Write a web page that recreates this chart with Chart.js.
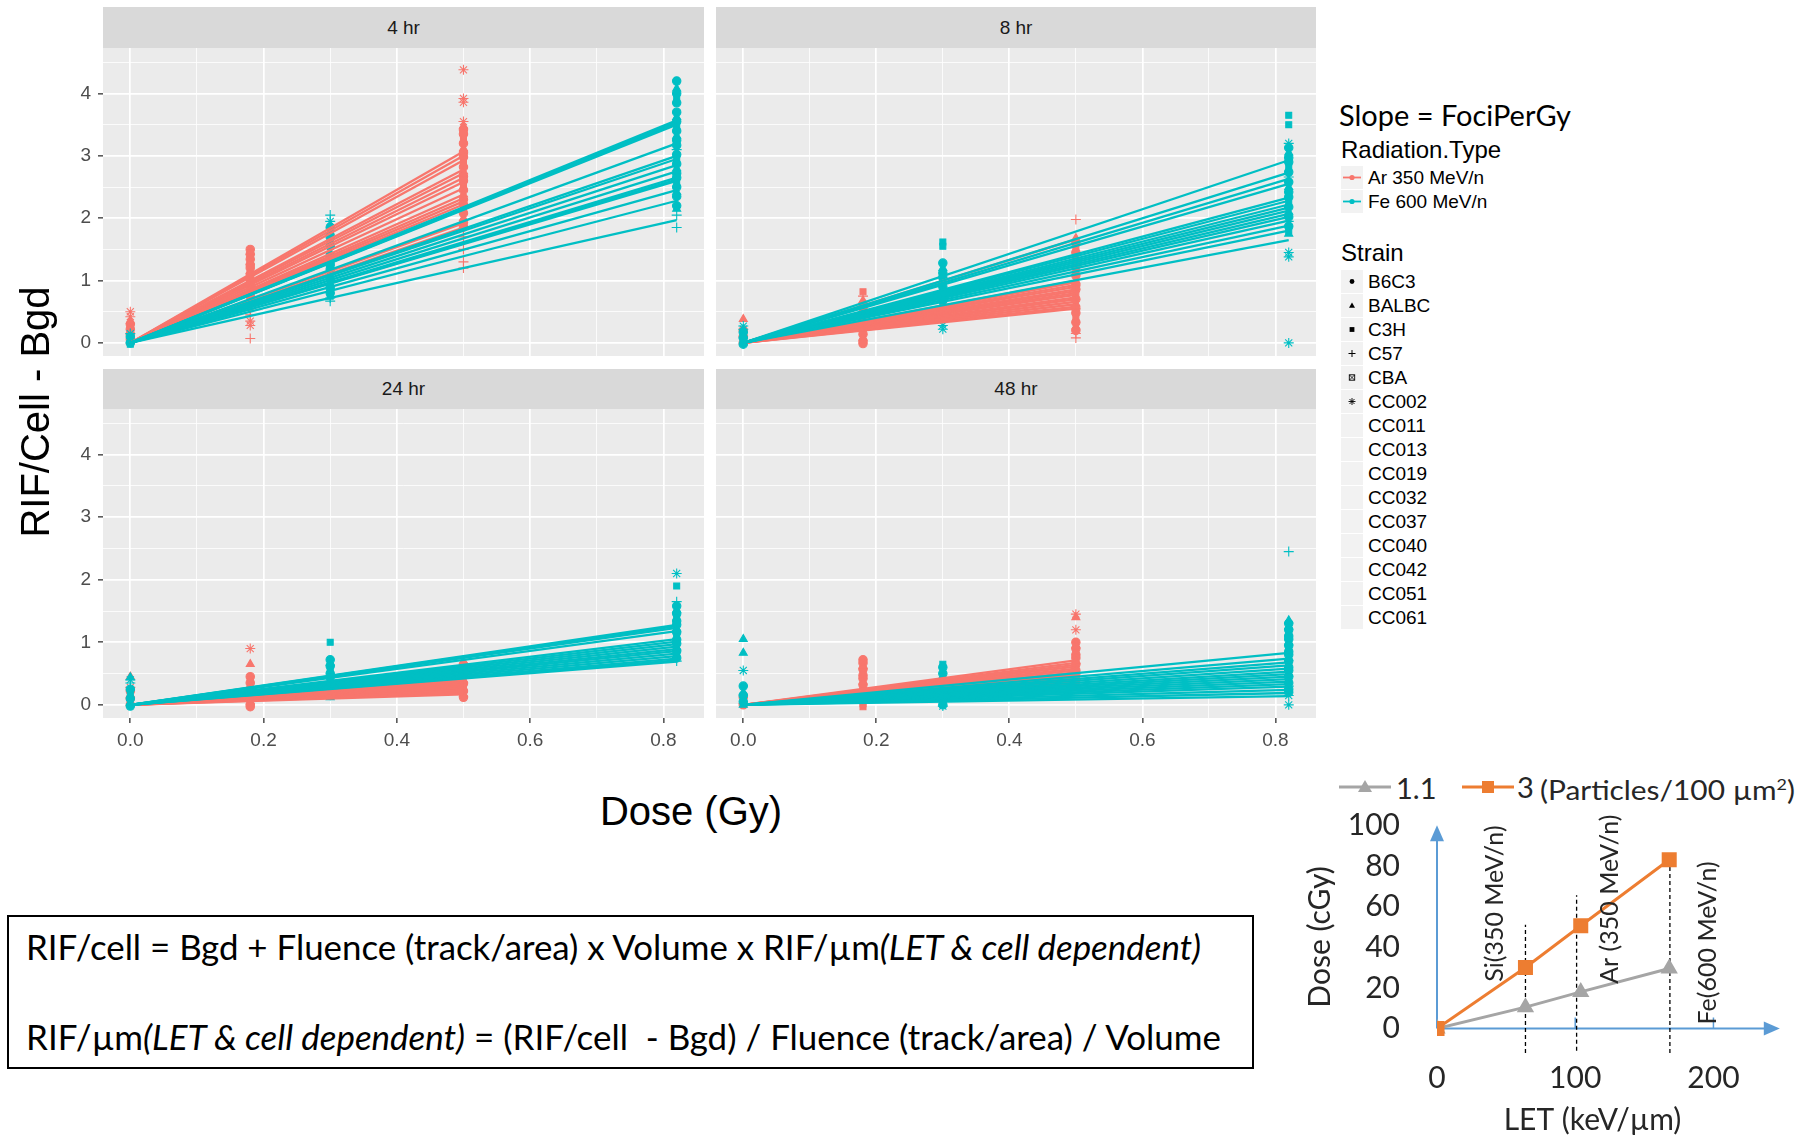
<!DOCTYPE html>
<html><head><meta charset="utf-8">
<title>RIF per cell vs dose</title>
<script src="https://cdn.jsdelivr.net/npm/chart.js@4.4.1/dist/chart.umd.min.js"></script>
<style>
html,body{margin:0;padding:0;background:#fff;}
body{width:1818px;height:1139px;position:relative;overflow:hidden;font-family:"Liberation Sans",Arial,sans-serif;}
canvas{position:absolute;}
.strip{position:absolute;background:#D9D9D9;color:#1A1A1A;font-size:19px;display:flex;align-items:center;justify-content:center;}
.t{position:absolute;white-space:nowrap;line-height:1;}
.fit{transform-origin:0 50%;}
.legkey{position:absolute;width:22px;height:23px;background:#F2F2F2;}
.cal{font-family:Lato,"Open Sans",sans-serif;}
#formula{position:absolute;left:7px;top:915px;width:1243px;height:150px;border:2px solid #000;}
</style></head><body>
<script>
// ================= DATA =================
const timePoints = ['4 hr','8 hr','24 hr','48 hr'];
const radiationTypes = ['Ar 350 MeV/n','Fe 600 MeV/n'];
const strains = ['B6C3','BALBC','C3H','C57','CBA','CC002','CC011','CC013','CC019','CC032','CC037','CC040','CC042','CC051','CC061'];
const doseTicks = [0.0,0.2,0.4,0.6,0.8];
const doseGrid = [0,0.1,0.2,0.3,0.4,0.5,0.6,0.7,0.8];
const rifTicks = [0,1,2,3,4];
const rifGrid = [0,0.5,1,1.5,2,2.5,3,3.5,4,4.5];
const arMaxDose = 0.5;
const feMaxDose = 0.82;

// fitted (RIF/cell - Bgd) at the highest dose for each strain line
const fitAr4  = [3.07,3.0,2.93,2.78,2.72,2.65,2.58,2.48,2.38,2.32,2.27,2.22,2.15,1.92,1.85];
const fitFe4  = [3.57,3.55,3.52,3.5,3.2,3.0,2.95,2.85,2.75,2.65,2.62,2.6,2.45,2.28,1.97];
const fitAr8  = [1.66,1.0,0.97,0.93,0.9,0.86,0.83,0.8,0.77,0.73,0.7,0.66,0.62,0.58,0.55];
const fitFe8  = [2.93,2.73,2.63,2.55,2.33,2.28,2.22,2.17,2.12,2.07,2.02,1.96,1.88,1.8,1.65];
const fitAr24 = [0.45,0.42,0.4,0.38,0.36,0.34,0.32,0.3,0.28,0.27,0.25,0.23,0.21,0.19,0.17];
const fitFe24 = [1.28,1.26,1.23,1.18,1.05,1.01,0.97,0.93,0.89,0.86,0.82,0.78,0.74,0.71,0.69];
const fitAr48 = [0.71,0.67,0.64,0.61,0.58,0.55,0.52,0.5,0.48,0.46,0.44,0.42,0.4,0.37,0.34];
const fitFe48 = [0.83,0.74,0.68,0.63,0.58,0.53,0.49,0.45,0.41,0.37,0.33,0.29,0.24,0.19,0.14];

// observed points: [dose, RIF/cell - Bgd, strain index]
const ptsAr4 = [[0,0.62,4],[0,0.57,4],[0,0.5,5],[0,0.42,5],[0,0.35,1],[0,0.3,0],[0,0.26,2],[0,0.22,0],[0,0.18,1],[0,0.14,0],[0,0.1,2],[0,0.06,0],[0,0.03,1],
 [0.18,1.72,4],[0.18,1.5,0],[0.18,1.46,1],[0.18,1.42,0],[0.18,1.38,2],[0.18,1.34,0],[0.18,1.3,1],[0.18,1.25,0],[0.18,1.2,0],[0.18,1.15,1],[0.18,1.1,0],[0.18,1.05,2],[0.18,1.0,0],[0.18,0.95,1],[0.18,0.9,0],[0.18,0.85,0],[0.18,0.8,2],[0.18,0.75,0],[0.18,0.7,1],[0.18,0.65,0],[0.18,0.58,5],[0.18,0.52,3],[0.18,0.45,3],[0.18,0.35,5],[0.18,0.28,5],[0.18,0.07,3],
 [0.5,4.38,5],[0.5,3.98,4],[0.5,3.92,5],[0.5,3.86,5],[0.5,3.72,4],[0.5,3.55,5],[0.5,3.48,1],[0.5,3.42,0],[0.5,3.35,0],[0.5,3.28,2],[0.5,3.2,0],[0.5,3.12,1],[0.5,3.05,0],[0.5,2.98,0],[0.5,2.9,2],[0.5,2.82,0],[0.5,2.75,1],[0.5,2.67,0],[0.5,2.6,0],[0.5,2.52,2],[0.5,2.45,0],[0.5,2.38,1],[0.5,2.3,0],[0.5,2.22,0],[0.5,2.15,2],[0.5,2.08,0],[0.5,2.0,1],[0.5,1.93,0],[0.5,1.86,0],[0.5,1.7,3],[0.5,1.5,3],[0.5,1.3,3],[0.5,1.2,3]];
const ptsFe4 = [[0,0.2,4],[0,0.15,5],[0,0.1,0],[0,0.05,1],[0,0.0,0],[0,-0.02,2],
 [0.3,2.32,4],[0.3,2.15,4],[0.3,2.1,4],[0.3,2.05,3],[0.3,1.95,5],[0.3,1.85,0],[0.3,1.78,1],[0.3,1.7,0],[0.3,1.62,2],[0.3,1.55,0],[0.3,1.48,4],[0.3,1.4,0],[0.3,1.32,1],[0.3,1.25,0],[0.3,1.18,0],[0.3,1.1,2],[0.3,1.02,0],[0.3,0.95,1],[0.3,0.88,0],[0.3,0.8,0],[0.3,0.75,2],[0.3,0.72,3],[0.3,0.67,3],
 [0.82,4.35,4],[0.82,4.2,0],[0.82,4.15,4],[0.82,4.08,1],[0.82,4.0,0],[0.82,3.92,2],[0.82,3.85,0],[0.82,3.78,4],[0.82,3.7,0],[0.82,3.62,1],[0.82,3.55,0],[0.82,3.47,2],[0.82,3.4,0],[0.82,3.32,1],[0.82,3.25,0],[0.82,3.17,0],[0.82,3.1,5],[0.82,3.02,0],[0.82,2.95,2],[0.82,2.87,0],[0.82,2.8,1],[0.82,2.72,0],[0.82,2.65,0],[0.82,2.57,2],[0.82,2.5,0],[0.82,2.42,1],[0.82,2.35,0],[0.82,2.27,4],[0.82,2.2,0],[0.82,2.15,1],[0.82,2.05,3],[0.82,1.85,3]];
const ptsAr8 = [[0,0.7,4],[0,0.38,1],[0,0.2,0],[0,0.15,1],[0,0.1,0],[0,0.05,2],[0,0.0,0],
 [0.18,1.17,4],[0.18,1.12,4],[0.18,0.97,4],[0.18,0.92,4],[0.18,0.82,2],[0.18,0.75,3],[0.18,0.68,1],[0.18,0.62,0],[0.18,0.56,0],[0.18,0.5,2],[0.18,0.44,0],[0.18,0.38,1],[0.18,0.32,0],[0.18,0.26,0],[0.18,0.2,2],[0.18,0.14,0],[0.18,0.08,1],[0.18,0.03,0],[0.18,-0.01,0],
 [0.5,1.98,3],[0.5,1.68,1],[0.5,1.6,0],[0.5,1.52,2],[0.5,1.45,0],[0.5,1.38,1],[0.5,1.3,0],[0.5,1.22,0],[0.5,1.15,2],[0.5,1.08,0],[0.5,1.0,1],[0.5,0.93,0],[0.5,0.86,0],[0.5,0.78,2],[0.5,0.7,0],[0.5,0.63,1],[0.5,0.55,0],[0.5,0.48,0],[0.5,0.4,2],[0.5,0.33,0],[0.5,0.26,1],[0.5,0.2,0],[0.5,0.15,3],[0.5,0.08,3]];
const ptsFe8 = [[0,0.27,5],[0,0.22,5],[0,0.17,0],[0,0.12,1],[0,0.08,0],[0,0.03,2],[0,-0.02,0],
 [0.3,1.62,2],[0.3,1.55,2],[0.3,1.47,4],[0.3,1.4,4],[0.3,1.28,0],[0.3,1.2,1],[0.3,1.12,0],[0.3,1.05,0],[0.3,0.98,2],[0.3,0.9,0],[0.3,0.83,1],[0.3,0.76,0],[0.3,0.68,0],[0.3,0.6,2],[0.3,0.52,0],[0.3,0.45,1],[0.3,0.28,5],[0.3,0.22,5],
 [0.82,3.65,2],[0.82,3.58,4],[0.82,3.5,2],[0.82,3.2,5],[0.82,3.13,0],[0.82,3.05,1],[0.82,2.97,0],[0.82,2.9,0],[0.82,2.82,2],[0.82,2.74,0],[0.82,2.66,5],[0.82,2.58,0],[0.82,2.5,1],[0.82,2.42,0],[0.82,2.34,0],[0.82,2.26,2],[0.82,2.18,0],[0.82,2.1,1],[0.82,2.02,0],[0.82,1.95,3],[0.82,1.87,0],[0.82,1.8,2],[0.82,1.75,1],[0.82,1.45,5],[0.82,1.38,5],[0.82,0.0,5]];
const ptsAr24 = [[0,0.45,1],[0,0.28,5],[0,0.22,0],[0,0.16,1],[0,0.1,0],[0,0.05,2],[0,0.0,0],
 [0.18,0.9,5],[0.18,0.65,1],[0.18,0.45,0],[0.18,0.4,2],[0.18,0.35,0],[0.18,0.3,1],[0.18,0.25,0],[0.18,0.2,0],[0.18,0.15,2],[0.18,0.1,0],[0.18,0.05,1],[0.18,0.0,0],[0.18,-0.03,0],
 [0.5,0.92,4],[0.5,0.88,4],[0.5,0.7,1],[0.5,0.64,0],[0.5,0.58,2],[0.5,0.52,0],[0.5,0.46,0],[0.5,0.4,1],[0.5,0.34,0],[0.5,0.28,2],[0.5,0.22,0],[0.5,0.17,1],[0.5,0.12,0]];
const ptsFe24 = [[0,0.44,1],[0,0.4,5],[0,0.35,3],[0,0.25,0],[0,0.18,2],[0,0.1,0],[0,0.03,1],[0,-0.02,0],
 [0.3,1.0,2],[0.3,0.72,0],[0.3,0.67,1],[0.3,0.62,0],[0.3,0.56,2],[0.3,0.5,0],[0.3,0.44,0],[0.3,0.38,1],[0.3,0.32,0],[0.3,0.26,2],[0.3,0.2,0],[0.3,0.15,0],[0.3,0.12,1],
 [0.82,2.85,4],[0.82,2.1,5],[0.82,1.9,2],[0.82,1.65,3],[0.82,1.58,0],[0.82,1.52,1],[0.82,1.46,0],[0.82,1.4,2],[0.82,1.34,0],[0.82,1.28,0],[0.82,1.22,1],[0.82,1.16,0],[0.82,1.1,2],[0.82,1.04,0],[0.82,0.98,0],[0.82,0.92,1],[0.82,0.86,0],[0.82,0.8,2],[0.82,0.75,0],[0.82,0.7,3]];
const ptsAr48 = [[0,0.12,0],[0,0.06,1],[0,0.0,0],
 [0.18,0.72,0],[0.18,0.67,0],[0.18,0.62,1],[0.18,0.57,0],[0.18,0.52,2],[0.18,0.47,0],[0.18,0.42,0],[0.18,0.37,1],[0.18,0.32,0],[0.18,0.27,2],[0.18,0.22,0],[0.18,0.17,0],[0.18,0.12,1],[0.18,0.07,0],[0.18,0.02,2],[0.18,-0.03,2],
 [0.5,1.45,5],[0.5,1.4,1],[0.5,1.2,5],[0.5,1.15,4],[0.5,1.0,0],[0.5,0.95,1],[0.5,0.9,0],[0.5,0.85,2],[0.5,0.8,0],[0.5,0.75,0],[0.5,0.7,1],[0.5,0.65,0],[0.5,0.6,2],[0.5,0.55,0],[0.5,0.5,0],[0.5,0.45,1],[0.5,0.4,0],[0.5,0.35,2],[0.5,0.3,0]];
const ptsFe48 = [[0,1.05,1],[0,0.83,1],[0,0.55,5],[0,0.3,0],[0,0.25,4],[0,0.2,1],[0,0.15,0],[0,0.1,2],[0,0.05,0],[0,0.0,1],
 [0.3,0.65,2],[0.3,0.6,0],[0.3,0.55,4],[0.3,0.5,0],[0.3,0.45,1],[0.3,0.4,0],[0.3,0.35,0],[0.3,0.3,2],[0.3,0.25,0],[0.3,0.2,1],[0.3,0.15,0],[0.3,0.1,0],[0.3,0.05,2],[0.3,0.0,0],[0.3,-0.02,5],
 [0.82,2.45,3],[0.82,1.35,1],[0.82,1.3,0],[0.82,1.25,1],[0.82,1.2,0],[0.82,1.15,2],[0.82,1.1,0],[0.82,1.05,0],[0.82,1.0,1],[0.82,0.95,0],[0.82,0.9,2],[0.82,0.85,0],[0.82,0.8,0],[0.82,0.75,1],[0.82,0.7,0],[0.82,0.65,2],[0.82,0.6,0],[0.82,0.55,0],[0.82,0.5,1],[0.82,0.45,0],[0.82,0.4,2],[0.82,0.35,0],[0.82,0.3,3],[0.82,0.25,0],[0.82,0.2,0],[0.82,0.15,5],[0.82,0.0,5]];

// inset chart: dose vs LET for two fluences
const letTicks = [0,100,200];
const cGyTicks = [0,20,40,60,80,100];
const ionLET = [0,64,104,168];
const doseFluence1p1 = [0,10.5,18,29.5];
const doseFluence3 = [0,30,50.5,83];
const fluenceLabels = ['1.1','3'];
const ionNames = ['Si(350 MeV/n)','Ar (350 MeV/n)','Fe(600 MeV/n)'];
const ionGuideLET = [64,101,168.5];
const ionGuideTop = [51,65.5,83];
const ionGuideBottom = [-12,-11,-12];

// ================= STYLE / LAYOUT =================
const RED = '#F8766D', CYAN = '#00BFC4';
const ionLabelAnchor = [{x:42,y:23},{x:125,y:22},{x:196,y:2}];
const PANELS = [{x:103,y:48,w:601,h:308},{x:716,y:48,w:600,h:308},{x:103,y:409,w:601,h:309},{x:716,y:409,w:600,h:309}];
const STRIP_ROWS = [{y:7,h:41},{y:369,h:40}];
const shapeNames = ['circle','triangle','rect','cross',null,'star'];
const shapeRadius = [4.2,4.6,4.2,5,0,5];

function boxX(color){
  const c=document.createElement('canvas'); c.width=9; c.height=9;
  const g=c.getContext('2d'); g.strokeStyle=color; g.lineWidth=1.1;
  g.strokeRect(0.55,0.55,7.9,7.9);
  g.beginPath(); g.moveTo(1.2,1.2); g.lineTo(7.8,7.8); g.moveTo(7.8,1.2); g.lineTo(1.2,7.8); g.stroke();
  return c;
}
const cbaImg = {}; cbaImg[RED]=boxX(RED); cbaImg[CYAN]=boxX(CYAN);

function noPad(s){s.paddingTop=0;s.paddingBottom=0;s.paddingLeft=0;s.paddingRight=0;}
function isMult(v,step){const q=v/step; return Math.abs(q-Math.round(q))<1e-6;}
function toPts(arr){return arr.map(p=>({x:p[0],y:p[1],s:p[2]}));}
function lineSets(fits,maxDose,color){
  return fits.map((v,i)=>({label:strains[i],data:[{x:0,y:0},{x:maxDose,y:v}],showLine:true,
    borderColor:color,borderWidth:2.3,pointRadius:0,order:0}));
}
function pointSet(pts,color){
  return {label:'pts',data:toPts(pts),showLine:false,order:1,backgroundColor:color,borderColor:color,borderWidth:1.1,
    pointStyle:ctx=>ctx.raw?(ctx.raw.s===4?cbaImg[color]:shapeNames[ctx.raw.s]):'circle',
    pointRadius:ctx=>ctx.raw?shapeRadius[ctx.raw.s]:3};
}
const panelBg = {id:'panelBg',beforeDraw(c){const a=c.chartArea,g=c.ctx;g.save();g.fillStyle='#EBEBEB';g.fillRect(a.left,a.top,a.right-a.left,a.bottom-a.top);g.restore();}};

function buildPanel(k,fitAr,fitFe,ptsAr,ptsFe){
  const r=PANELS[k], showY=k%2===0, showX=k>=2;
  const padL=showY?50:0, padB=showX?50:0;
  const strip=document.createElement('div'); strip.className='strip';
  const sr=STRIP_ROWS[Math.floor(k/2)];
  Object.assign(strip.style,{left:r.x+'px',top:sr.y+'px',width:r.w+'px',height:sr.h+'px'});
  strip.textContent=timePoints[k]; document.body.appendChild(strip);
  const cv=document.createElement('canvas'); cv.width=r.w+padL; cv.height=r.h+padB;
  cv.style.left=(r.x-padL)+'px'; cv.style.top=r.y+'px'; document.body.appendChild(cv);
  new Chart(cv,{type:'scatter',
    data:{datasets:[...lineSets(fitFe,feMaxDose,CYAN),...lineSets(fitAr,arMaxDose,RED),pointSet(ptsFe,CYAN),pointSet(ptsAr,RED)]},
    options:{responsive:false,animation:false,events:[],devicePixelRatio:1,layout:{padding:0,autoPadding:false},
      plugins:{legend:{display:false},tooltip:{enabled:false}},
      scales:{
        x:{type:'linear',min:-0.041,max:0.861,
          afterBuildTicks:s=>{s.ticks=doseGrid.map(v=>({value:v}));},
          afterFit:s=>{s.height=padB;noPad(s);},
          ticks:{display:showX,autoSkip:false,maxRotation:0,padding:6,color:'#4D4D4D',font:{family:'"Liberation Sans", Arial',size:19},
            callback:v=>doseTicks.some(t=>Math.abs(t-v)<1e-6)?v.toFixed(1):''},
          grid:{color:'#FFFFFF',lineWidth:ctx=>isMult(ctx.tick.value,0.2)?1.7:0.8,drawTicks:showX,tickLength:5,tickWidth:1.3,
            tickColor:ctx=>isMult(ctx.tick.value,0.2)?'#333333':'rgba(0,0,0,0)'},
          border:{display:false}},
        y:{type:'linear',min:-0.21,max:4.73,
          afterBuildTicks:s=>{s.ticks=rifGrid.map(v=>({value:v}));},
          afterFit:s=>{s.width=padL;noPad(s);},
          ticks:{display:showY,autoSkip:false,padding:7,color:'#4D4D4D',font:{family:'"Liberation Sans", Arial',size:19},
            callback:v=>rifTicks.includes(v)?String(v):''},
          grid:{color:'#FFFFFF',lineWidth:ctx=>isMult(ctx.tick.value,1)?1.7:0.8,drawTicks:showY,tickLength:5,tickWidth:1.3,
            tickColor:ctx=>isMult(ctx.tick.value,1)?'#333333':'rgba(0,0,0,0)'},
          border:{display:false}}
      }},
    plugins:[panelBg]});
}
buildPanel(0,fitAr4,fitFe4,ptsAr4,ptsFe4);
buildPanel(1,fitAr8,fitFe8,ptsAr8,ptsFe8);
buildPanel(2,fitAr24,fitFe24,ptsAr24,ptsFe24);
buildPanel(3,fitAr48,fitFe48,ptsAr48,ptsFe48);

// ---- text helpers ----
function addText(txt,left,cy,size,opts={}){
  const d=document.createElement('div'); d.className='t'+(opts.cls?' '+opts.cls:'');
  d.innerHTML=txt; d.style.fontSize=size+'px'; d.style.left=left+'px'; d.style.top=(cy-size/2)+'px';
  if(opts.color) d.style.color=opts.color;
  if(opts.w) {d.dataset.w=opts.w; d.classList.add('fit');}
  document.body.appendChild(d); return d;
}
// axis titles of facet grid
(function(){
  const y=document.createElement('div'); y.className='t'; y.textContent='RIF/Cell - Bgd';
  Object.assign(y.style,{fontSize:'40px',width:'400px',textAlign:'center',left:(35-200)+'px',top:(412-20)+'px',transform:'rotate(-90deg)',color:'#000'});
  document.body.appendChild(y);
  const x=document.createElement('div'); x.className='t'; x.textContent='Dose (Gy)';
  Object.assign(x.style,{fontSize:'40px',width:'400px',textAlign:'center',left:(691-200)+'px',top:(811-20)+'px',color:'#000'});
  document.body.appendChild(x);
})();

// ---- legend ----
addText('Slope = FociPerGy',1339,115,28,{cls:'cal',w:232,color:'#000'});
addText('Radiation.Type',1341,150,24,{color:'#000'});
radiationTypes.forEach((name,i)=>{
  const cy=177+24*i, col=i===0?RED:CYAN;
  const k=document.createElement('div'); k.className='legkey'; k.style.left='1341px'; k.style.top=(cy-11.5)+'px';
  k.innerHTML=`<svg width="22" height="23"><line x1="2" y1="11.5" x2="20" y2="11.5" stroke="${col}" stroke-width="1.8"/><circle cx="11" cy="11.5" r="2.6" fill="${col}"/></svg>`;
  document.body.appendChild(k);
  addText(name,1368,cy,19,{color:'#000'});
});
addText('Strain',1341,253,24,{color:'#000'});
const keyGlyph = [
  '<circle cx="11" cy="11.5" r="2.4" fill="#000"/>',
  '<polygon points="11,8.5 14,13.8 8,13.8" fill="#000"/>',
  '<rect x="8.6" y="9.1" width="4.8" height="4.8" fill="#000"/>',
  '<path d="M11 8v7M7.5 11.5h7" stroke="#000" stroke-width="1"/>',
  '<rect x="8.3" y="8.8" width="5.4" height="5.4" fill="none" stroke="#000" stroke-width="0.9"/><path d="M8.5 9l5 5M13.5 9l-5 5" stroke="#000" stroke-width="0.8"/>',
  '<path d="M11 8v7M7.5 11.5h7M8.5 9l5 5M13.5 9l-5 5" stroke="#000" stroke-width="0.9"/>'
];
strains.forEach((name,i)=>{
  const cy=281+24*i;
  const k=document.createElement('div'); k.className='legkey'; k.style.left='1341px'; k.style.top=(cy-11.5)+'px';
  if(keyGlyph[i]) k.innerHTML=`<svg width="22" height="23">${keyGlyph[i]}</svg>`;
  document.body.appendChild(k);
  addText(name,1368,cy,19,{color:'#000'});
});

// ---- formula box ----
const fb=document.createElement('div'); fb.id='formula'; document.body.appendChild(fb);
addText('RIF/cell = Bgd + Fluence (track/area) x Volume x RIF/µm<i>(LET &amp; cell dependent)</i>',26,947,34,{cls:'cal',w:1175,color:'#000'});
addText('RIF/µm<i>(LET &amp; cell dependent)</i> = (RIF/cell&nbsp; - Bgd) / Fluence (track/area) / Volume',26,1037,34,{cls:'cal',w:1195,color:'#000'});

// ---- inset chart legend ----
(function(){
  const s=document.createElement('div'); s.style.position='absolute'; s.style.left='1336px'; s.style.top='776px';
  s.innerHTML='<svg width="190" height="22"><line x1="3" y1="11" x2="55" y2="11" stroke="#A5A5A5" stroke-width="3"/><polygon points="29,4 36,16 22,16" fill="#A5A5A5"/>'+
    '<line x1="126" y1="11" x2="178" y2="11" stroke="#ED7D31" stroke-width="3"/><rect x="146" y="5" width="12" height="12" fill="#ED7D31"/></svg>';
  document.body.appendChild(s);
})();
addText(fluenceLabels[0],1396,787,29,{cls:'cal',color:'#262626'});
addText(fluenceLabels[1],1517,786,29,{cls:'cal',color:'#262626'});
addText('(Particles/100 µm<sup style="font-size:0.6em">2</sup>)',1540,790,26,{cls:'cal',w:255,color:'#262626'});

// ---- inset chart ----
const insetDecor={id:'insetDecor',
  beforeDatasetsDraw(c){
    const g=c.ctx,xs=c.scales.x,ys=c.scales.y;const x0=xs.getPixelForValue(0),y0=ys.getPixelForValue(0);
    const yTop=ys.getPixelForValue(100), xEnd=xs.getPixelForValue(248);
    g.save(); g.strokeStyle='#5B9BD5'; g.fillStyle='#5B9BD5'; g.lineWidth=2;
    g.beginPath(); g.moveTo(x0,y0); g.lineTo(x0,yTop+12); g.stroke();
    g.beginPath(); g.moveTo(x0,yTop); g.lineTo(x0-7,yTop+16); g.lineTo(x0+7,yTop+16); g.closePath(); g.fill();
    g.beginPath(); g.moveTo(x0,y0); g.lineTo(xEnd-12,y0); g.stroke();
    g.beginPath(); g.moveTo(xEnd,y0); g.lineTo(xEnd-16,y0-7); g.lineTo(xEnd-16,y0+7); g.closePath(); g.fill();
    g.lineWidth=1.5;
    letTicks.slice(1).forEach(v=>{const x=xs.getPixelForValue(v); g.beginPath(); g.moveTo(x,y0); g.lineTo(x,y0-11); g.stroke();});
    g.restore();
  },
  afterDatasetsDraw(c){
    const g=c.ctx,xs=c.scales.x,ys=c.scales.y;
    g.save(); g.fillStyle='#262626'; g.font='25px Lato, "Open Sans", sans-serif'; g.textAlign='left'; g.textBaseline='middle';
    ionNames.forEach((n,i)=>{const a=ionLabelAnchor[i]; g.save(); g.translate(xs.getPixelForValue(a.x),ys.getPixelForValue(a.y)); g.rotate(-Math.PI/2); g.fillText(n,0,0); g.restore();});
    g.restore();
  }};
(function(){
  const cv=document.createElement('canvas'); cv.width=493; cv.height=349; cv.style.left='1290px'; cv.style.top='790px';
  document.body.appendChild(cv);
  const guides=ionGuideLET.map((x,i)=>({label:'guide',data:[{x:x,y:ionGuideBottom[i]},{x:x,y:ionGuideTop[i]}],showLine:true,
    borderColor:'#000',borderWidth:1.3,borderDash:[4,3],pointRadius:0,order:2}));
  new Chart(cv,{type:'scatter',
    data:{datasets:[
      {label:fluenceLabels[1],data:ionLET.map((x,i)=>({x:x,y:doseFluence3[i]})),showLine:true,borderColor:'#ED7D31',backgroundColor:'#ED7D31',borderWidth:3,pointStyle:'rect',pointRadius:8.5,order:0},
      {label:fluenceLabels[0],data:ionLET.map((x,i)=>({x:x,y:doseFluence1p1[i]})),showLine:true,borderColor:'#A5A5A5',backgroundColor:'#A5A5A5',borderWidth:3,pointStyle:'triangle',pointRadius:7,order:1},
      ...guides]},
    options:{responsive:false,animation:false,events:[],devicePixelRatio:1,layout:{padding:{top:25,right:35}},
      plugins:{legend:{display:false},tooltip:{enabled:false}},
      scales:{
        x:{type:'linear',min:0,max:225,afterBuildTicks:s=>{s.ticks=letTicks.map(v=>({value:v}));},afterFit:s=>{s.height=80;noPad(s);},
          grid:{display:false,drawTicks:false},border:{display:false},
          ticks:{padding:1,color:'#262626',font:{family:'Lato, "Open Sans", sans-serif',size:30}},
          title:{display:true,text:'LET (keV/µm)',color:'#262626',font:{family:'Lato, "Open Sans", sans-serif',size:30},padding:{top:0,bottom:1}}},
        y:{type:'linear',min:-15,max:105,afterBuildTicks:s=>{s.ticks=cGyTicks.map(v=>({value:v}));},afterFit:s=>{s.width=147;noPad(s);},
          grid:{display:false,drawTicks:false},border:{display:false},
          ticks:{padding:37,color:'#262626',font:{family:'Lato, "Open Sans", sans-serif',size:30}},
          title:{display:true,text:'Dose (cGy)',color:'#262626',font:{family:'Lato, "Open Sans", sans-serif',size:30},padding:{top:12,bottom:0}}}
      }},
    plugins:[insetDecor]});
})();

// ---- horizontal fit of Calibri-like texts ----
document.querySelectorAll('.fit').forEach(el=>{
  const w=el.getBoundingClientRect().width, target=+el.dataset.w;
  if(w>0) el.style.transform='scaleX('+(target/w)+')';
});
</script>
</body></html>
